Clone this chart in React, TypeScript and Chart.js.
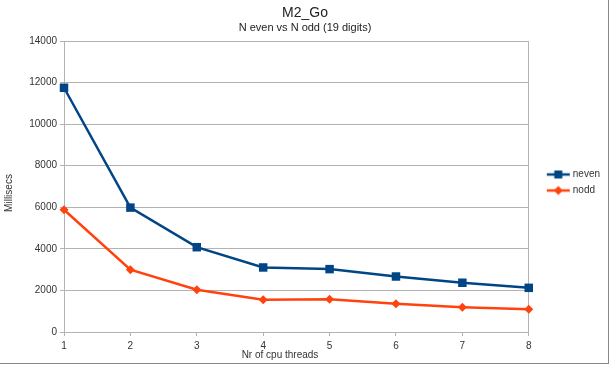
import React, { useEffect, useRef } from 'react';
import { Chart, registerables } from 'chart.js';

Chart.register(...registerables);

const chartTitle = 'M2_Go';
const chartSubtitle = 'N even vs N odd (19 digits)';
const yAxisTitle = 'Millisecs';
const xAxisTitle = 'Nr of cpu threads';
const seriesNames = ['neven', 'nodd'];
const threads = [1, 2, 3, 4, 5, 6, 7, 8];
const nevenMs = [11750, 5985, 4080, 3105, 3025, 2670, 2370, 2125];
const noddMs = [5880, 3000, 2030, 1550, 1578, 1355, 1195, 1100];
const yMin = 0;
const yMax = 14000;
const yStep = 2000;

const FONT = "'Liberation Sans', Arial, sans-serif";
const BLUE = '#004586';
const ORANGE = '#ff420e';
const GRID = '#b3b3b3';
const TEXT = '#333333';

function makeIcon(color: string, kind: 'square' | 'diamond'): HTMLCanvasElement {
  const c = document.createElement('canvas');
  c.width = 41;
  c.height = 12;
  const g = c.getContext('2d')!;
  g.strokeStyle = color;
  g.lineWidth = 2.5;
  g.beginPath();
  g.moveTo(16, 6);
  g.lineTo(39, 6);
  g.stroke();
  g.fillStyle = color;
  const cx = 27.5;
  const cy = 6;
  if (kind === 'square') {
    g.fillRect(cx - 4, cy - 4, 8, 8);
  } else {
    g.beginPath();
    g.moveTo(cx, cy - 4.5);
    g.lineTo(cx + 4.5, cy);
    g.lineTo(cx, cy + 4.5);
    g.lineTo(cx - 4.5, cy);
    g.closePath();
    g.fill();
  }
  return c;
}

const axisTitlePlugin = {
  id: 'axisTitles',
  afterDraw(chart: any) {
    const { ctx, chartArea } = chart;
    ctx.save();
    ctx.fillStyle = TEXT;
    ctx.font = `10px ${FONT}`;
    ctx.textAlign = 'center';
    ctx.textBaseline = 'middle';
    ctx.fillText(xAxisTitle, chartArea.left + 216, chartArea.bottom + 23);
    ctx.translate(9, chartArea.top + 152);
    ctx.rotate(-Math.PI / 2);
    ctx.fillText(yAxisTitle, 0, 0);
    ctx.restore();
  },
};

export default function App() {
  const canvasRef = useRef<HTMLCanvasElement | null>(null);

  useEffect(() => {
    const canvas = canvasRef.current;
    if (!canvas) return;
    const icons = [makeIcon(BLUE, 'square'), makeIcon(ORANGE, 'diamond')];
    const chart = new Chart(canvas, {
      type: 'line',
      data: {
        datasets: [
          {
            label: seriesNames[0],
            data: threads.map((t, i) => ({ x: t, y: nevenMs[i] })),
            borderColor: BLUE,
            backgroundColor: BLUE,
            borderWidth: 2.5,
            pointStyle: 'rect',
            pointRadius: 6,
            pointHoverRadius: 6,
            pointBorderWidth: 0,
            tension: 0,
            clip: false,
          },
          {
            label: seriesNames[1],
            data: threads.map((t, i) => ({ x: t, y: noddMs[i] })),
            borderColor: ORANGE,
            backgroundColor: ORANGE,
            borderWidth: 2.5,
            pointStyle: 'rectRot',
            pointRadius: 4.5,
            pointHoverRadius: 4.5,
            pointBorderWidth: 0,
            tension: 0,
            clip: false,
          },
        ],
      },
      options: {
        animation: false,
        responsive: false,
        devicePixelRatio: 1,
        layout: { padding: { left: 0, right: 0, top: 0, bottom: 0 } },
        plugins: {
          title: {
            display: true,
            text: chartTitle,
            color: '#222222',
            font: { family: FONT, size: 14, weight: 'normal' },
            padding: { top: 5, bottom: 0 },
          },
          subtitle: {
            display: true,
            text: chartSubtitle,
            color: '#222222',
            font: { family: FONT, size: 11, weight: 'normal' },
            padding: { top: 0, bottom: 6 },
          },
          legend: {
            display: true,
            position: 'right',
            labels: {
              usePointStyle: true,
              pointStyleWidth: 33,
              padding: 6,
              color: TEXT,
              font: { family: FONT, size: 10 },
              generateLabels: () =>
                seriesNames.map((name, i) => ({
                  text: name,
                  pointStyle: icons[i],
                  fillStyle: i === 0 ? BLUE : ORANGE,
                  strokeStyle: i === 0 ? BLUE : ORANGE,
                  lineWidth: 0,
                  hidden: false,
                  datasetIndex: i,
                  fontColor: TEXT,
                })),
            },
          },
          tooltip: { enabled: false },
        },
        scales: {
          x: {
            type: 'linear',
            min: 1,
            max: 8,
            ticks: {
              stepSize: 1,
              color: TEXT,
              font: { family: FONT, size: 10 },
              padding: 4,
              callback: (v: any) => String(v),
            },
            grid: {
              color: (c: any) => (c.tick && c.tick.value === 8 ? GRID : 'rgba(0,0,0,0)'),
              tickColor: GRID,
              tickLength: 4,
            },
            border: { color: GRID },
            afterFit: (s: any) => {
              s.height = 33;
            },
          },
          y: {
            type: 'linear',
            min: yMin,
            max: yMax,
            ticks: {
              stepSize: yStep,
              color: TEXT,
              font: { family: FONT, size: 10 },
              padding: 3,
              callback: (v: any) => String(v),
            },
            grid: { color: GRID, tickColor: GRID, tickLength: 4 },
            border: { color: GRID },
            afterFit: (s: any) => {
              s.width = 64;
            },
          },
        },
      },
      plugins: [axisTitlePlugin],
    } as any);
    return () => chart.destroy();
  }, []);

  return (
    <div style={{ position: 'fixed', left: 0, top: 0, width: 610, height: 365, background: '#fff' }}>
      <canvas ref={canvasRef} width={610} height={365} style={{ position: 'absolute', left: 0, top: 0 }} />
      <div
        style={{
          position: 'absolute',
          left: 0,
          top: 0,
          width: 608,
          height: 363,
          borderRight: '1px solid #888',
          borderBottom: '1px solid #888',
          pointerEvents: 'none',
        }}
      />
    </div>
  );
}
